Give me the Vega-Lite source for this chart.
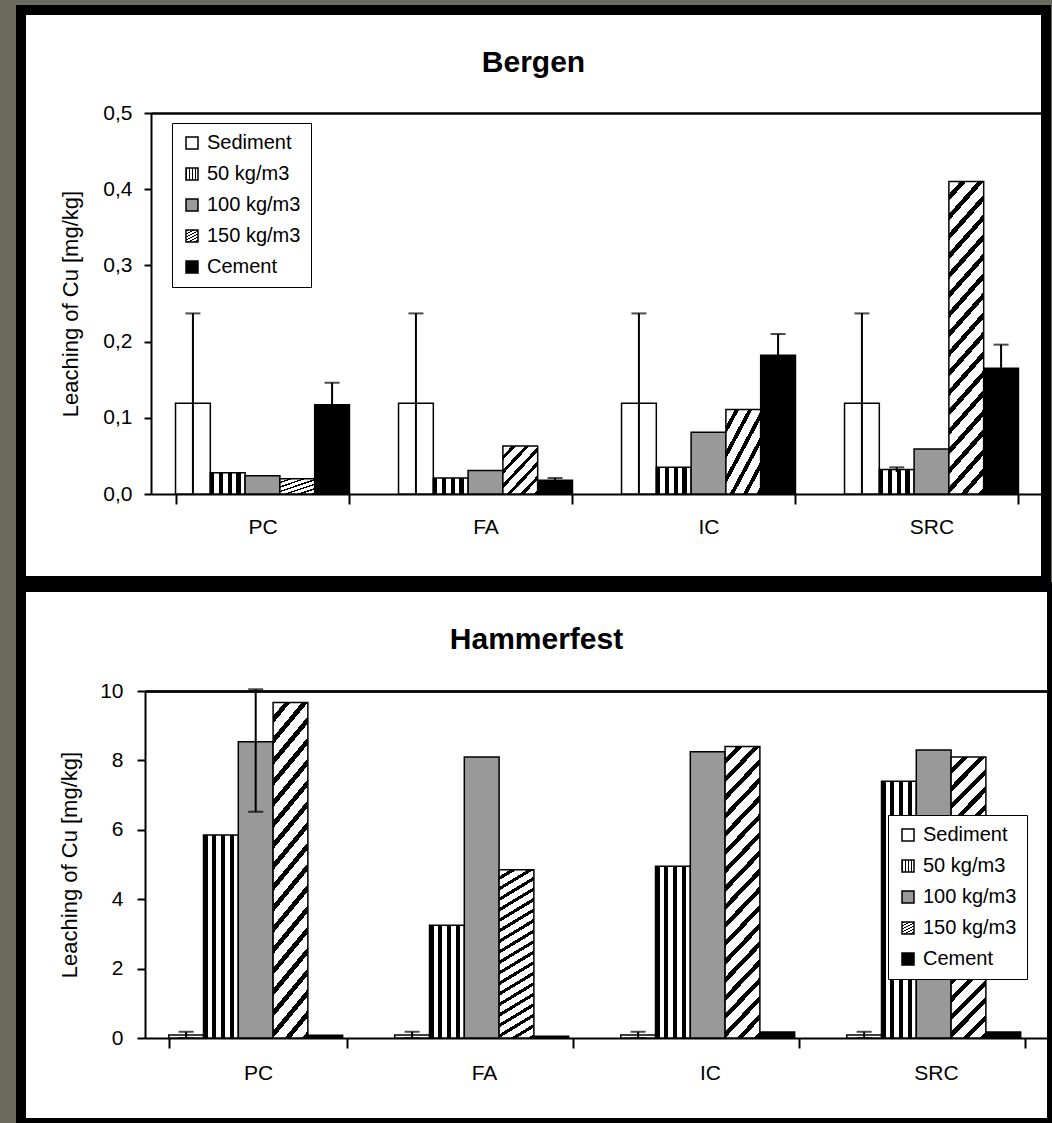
{
  "$schema": "https://vega.github.io/schema/vega-lite/v6.json",
  "background": "#6b6b5e",
  "padding": {"left": 16, "top": 5, "right": 0, "bottom": 0},
  "bounds": "flush",
  "spacing": 6,
  "datasets": {
    "bergen": [
      {"cat": "PC", "series": "Sediment", "value": 0.119},
      {"cat": "PC", "series": "50 kg/m3", "value": 0.028},
      {"cat": "PC", "series": "100 kg/m3", "value": 0.024},
      {"cat": "PC", "series": "150 kg/m3", "value": 0.020},
      {"cat": "PC", "series": "Cement", "value": 0.117},
      {"cat": "FA", "series": "Sediment", "value": 0.119},
      {"cat": "FA", "series": "50 kg/m3", "value": 0.021},
      {"cat": "FA", "series": "100 kg/m3", "value": 0.031},
      {"cat": "FA", "series": "150 kg/m3", "value": 0.063},
      {"cat": "FA", "series": "Cement", "value": 0.018},
      {"cat": "IC", "series": "Sediment", "value": 0.119},
      {"cat": "IC", "series": "50 kg/m3", "value": 0.035},
      {"cat": "IC", "series": "100 kg/m3", "value": 0.081},
      {"cat": "IC", "series": "150 kg/m3", "value": 0.111},
      {"cat": "IC", "series": "Cement", "value": 0.182},
      {"cat": "SRC", "series": "Sediment", "value": 0.119},
      {"cat": "SRC", "series": "50 kg/m3", "value": 0.032},
      {"cat": "SRC", "series": "100 kg/m3", "value": 0.059},
      {"cat": "SRC", "series": "150 kg/m3", "value": 0.410},
      {"cat": "SRC", "series": "Cement", "value": 0.165}
    ],
    "bergenErr": [
      {"cat": "PC", "series": "Sediment", "low": 0.001, "high": 0.237},
      {"cat": "FA", "series": "Sediment", "low": 0.001, "high": 0.237},
      {"cat": "IC", "series": "Sediment", "low": 0.001, "high": 0.237},
      {"cat": "SRC", "series": "Sediment", "low": 0.001, "high": 0.237},
      {"cat": "PC", "series": "Cement", "low": 0.088, "high": 0.146},
      {"cat": "FA", "series": "Cement", "low": 0.015, "high": 0.021},
      {"cat": "IC", "series": "Cement", "low": 0.154, "high": 0.210},
      {"cat": "SRC", "series": "50 kg/m3", "low": 0.029, "high": 0.035},
      {"cat": "SRC", "series": "Cement", "low": 0.134, "high": 0.196}
    ],
    "hammerfest": [
      {"cat": "PC", "series": "Sediment", "value": 0.09},
      {"cat": "PC", "series": "50 kg/m3", "value": 5.85},
      {"cat": "PC", "series": "100 kg/m3", "value": 8.54},
      {"cat": "PC", "series": "150 kg/m3", "value": 9.67},
      {"cat": "PC", "series": "Cement", "value": 0.08},
      {"cat": "FA", "series": "Sediment", "value": 0.09},
      {"cat": "FA", "series": "50 kg/m3", "value": 3.25},
      {"cat": "FA", "series": "100 kg/m3", "value": 8.1},
      {"cat": "FA", "series": "150 kg/m3", "value": 4.85},
      {"cat": "FA", "series": "Cement", "value": 0.05},
      {"cat": "IC", "series": "Sediment", "value": 0.09},
      {"cat": "IC", "series": "50 kg/m3", "value": 4.95},
      {"cat": "IC", "series": "100 kg/m3", "value": 8.25},
      {"cat": "IC", "series": "150 kg/m3", "value": 8.4},
      {"cat": "IC", "series": "Cement", "value": 0.17},
      {"cat": "SRC", "series": "Sediment", "value": 0.09},
      {"cat": "SRC", "series": "50 kg/m3", "value": 7.4},
      {"cat": "SRC", "series": "100 kg/m3", "value": 8.3},
      {"cat": "SRC", "series": "150 kg/m3", "value": 8.1},
      {"cat": "SRC", "series": "Cement", "value": 0.17}
    ],
    "hammerfestErr": [
      {"cat": "PC", "series": "100 kg/m3", "low": 6.52, "high": 10.05},
      {"cat": "PC", "series": "Sediment", "low": 0, "high": 0.18},
      {"cat": "FA", "series": "Sediment", "low": 0, "high": 0.18},
      {"cat": "IC", "series": "Sediment", "low": 0, "high": 0.18},
      {"cat": "SRC", "series": "Sediment", "low": 0, "high": 0.18}
    ]
  },
  "resolve": {"scale": {"fill": "independent"}, "legend": {"fill": "independent"}},
  "vconcat": [
    {
      "width": 1025,
      "height": 571,
      "title": {"text": "Bergen", "offset": -68},
      "layer": [
        {
          "data": {"name": "bergen"},
          "mark": {"type": "bar", "stroke": "black", "strokeWidth": 1.5},
          "encoding": {
            "x": {"field": "cat", "type": "nominal", "sort": ["PC", "FA", "IC", "SRC"],
                  "scale": {"range": [130, 1022], "paddingInner": 0.22, "paddingOuter": 0.11},
                  "axis": {"orient": "bottom", "offset": -87, "title": null, "tickBand": "extent", "labelAngle": 0, "tickSize": 10, "labelPadding": 12}},
            "xOffset": {"field": "series", "type": "nominal", "scale": {"domain": ["Sediment", "50 kg/m3", "100 kg/m3", "150 kg/m3", "Cement"], "paddingInner": 0, "paddingOuter": 0}},
            "y": {"field": "value", "type": "quantitative",
                  "scale": {"domain": [0, 0.5], "range": [484, 103], "nice": false},
                  "axis": {"orient": "left", "offset": -130, "values": [0, 0.1, 0.2, 0.3, 0.4, 0.5], "labelExpr": "replace(format(datum.value, '.1f'), '.', ',')", "title": "Leaching of Cu [mg/kg]", "tickSize": 7, "labelPadding": 12, "titlePadding": 20}},
            "fill": {"field": "series", "type": "nominal",
                     "condition": {"test": "datum.series === '150 kg/m3' && datum.value < 0.12",
                                   "value": {"expr": "{gradient:'linear',x1:0,y1:0,x2:0.855,y2:1.111,stops:[{offset:0,color:'white'},{offset:0.1117,color:'white'},{offset:0.1117,color:'black'},{offset:0.1667,color:'black'},{offset:0.1667,color:'white'},{offset:0.2783,color:'white'},{offset:0.2783,color:'black'},{offset:0.3333,color:'black'},{offset:0.3333,color:'white'},{offset:0.445,color:'white'},{offset:0.445,color:'black'},{offset:0.5,color:'black'},{offset:0.5,color:'white'},{offset:0.6117,color:'white'},{offset:0.6117,color:'black'},{offset:0.6667,color:'black'},{offset:0.6667,color:'white'},{offset:0.7783,color:'white'},{offset:0.7783,color:'black'},{offset:0.8333,color:'black'},{offset:0.8333,color:'white'},{offset:0.945,color:'white'},{offset:0.945,color:'black'},{offset:1,color:'black'}]}"}},
                     "scale": {"domain": ["Sediment", "50 kg/m3", "100 kg/m3", "150 kg/m3", "Cement"],
                               "range": [
                                 "white",
                                 {"expr": "{gradient:'linear',x1:0,y1:0,x2:1,y2:0,stops:[{offset:0,color:'black'},{offset:0.12,color:'black'},{offset:0.12,color:'white'},{offset:0.25,color:'white'},{offset:0.25,color:'black'},{offset:0.37,color:'black'},{offset:0.37,color:'white'},{offset:0.5,color:'white'},{offset:0.5,color:'black'},{offset:0.62,color:'black'},{offset:0.62,color:'white'},{offset:0.75,color:'white'},{offset:0.75,color:'black'},{offset:0.87,color:'black'},{offset:0.87,color:'white'},{offset:1,color:'white'}]}"},
                                 "#999999",
                                 {"expr": "{gradient:'linear',x1:0,y1:0,x2:0.1385,y2:1.108,stops:[{offset:0,color:'white'},{offset:0.0361,color:'white'},{offset:0.0361,color:'black'},{offset:0.0556,color:'black'},{offset:0.0556,color:'white'},{offset:0.0917,color:'white'},{offset:0.0917,color:'black'},{offset:0.1111,color:'black'},{offset:0.1111,color:'white'},{offset:0.1472,color:'white'},{offset:0.1472,color:'black'},{offset:0.1667,color:'black'},{offset:0.1667,color:'white'},{offset:0.2028,color:'white'},{offset:0.2028,color:'black'},{offset:0.2222,color:'black'},{offset:0.2222,color:'white'},{offset:0.2583,color:'white'},{offset:0.2583,color:'black'},{offset:0.2778,color:'black'},{offset:0.2778,color:'white'},{offset:0.3139,color:'white'},{offset:0.3139,color:'black'},{offset:0.3333,color:'black'},{offset:0.3333,color:'white'},{offset:0.3694,color:'white'},{offset:0.3694,color:'black'},{offset:0.3889,color:'black'},{offset:0.3889,color:'white'},{offset:0.425,color:'white'},{offset:0.425,color:'black'},{offset:0.4444,color:'black'},{offset:0.4444,color:'white'},{offset:0.4806,color:'white'},{offset:0.4806,color:'black'},{offset:0.5,color:'black'},{offset:0.5,color:'white'},{offset:0.5361,color:'white'},{offset:0.5361,color:'black'},{offset:0.5556,color:'black'},{offset:0.5556,color:'white'},{offset:0.5917,color:'white'},{offset:0.5917,color:'black'},{offset:0.6111,color:'black'},{offset:0.6111,color:'white'},{offset:0.6472,color:'white'},{offset:0.6472,color:'black'},{offset:0.6667,color:'black'},{offset:0.6667,color:'white'},{offset:0.7028,color:'white'},{offset:0.7028,color:'black'},{offset:0.7222,color:'black'},{offset:0.7222,color:'white'},{offset:0.7583,color:'white'},{offset:0.7583,color:'black'},{offset:0.7778,color:'black'},{offset:0.7778,color:'white'},{offset:0.8139,color:'white'},{offset:0.8139,color:'black'},{offset:0.8333,color:'black'},{offset:0.8333,color:'white'},{offset:0.8694,color:'white'},{offset:0.8694,color:'black'},{offset:0.8889,color:'black'},{offset:0.8889,color:'white'},{offset:0.925,color:'white'},{offset:0.925,color:'black'},{offset:0.9444,color:'black'},{offset:0.9444,color:'white'},{offset:0.9806,color:'white'},{offset:0.9806,color:'black'},{offset:1,color:'black'}]}"},
                                 "black"
                               ]},
                     "legend": {"orient": "none", "legendX": 151, "legendY": 113}}
          }
        },
        {
          "data": {"name": "bergenErr"},
          "mark": {"type": "rule", "strokeWidth": 2, "color": "black"},
          "encoding": {
            "x": {"field": "cat", "type": "nominal", "sort": ["PC", "FA", "IC", "SRC"],
                  "scale": {"range": [130, 1022], "paddingInner": 0.22, "paddingOuter": 0.11},
                  "axis": {"orient": "top", "offset": -103, "title": null, "labels": false, "ticks": false}},
            "xOffset": {"field": "series", "type": "nominal", "scale": {"domain": ["Sediment", "50 kg/m3", "100 kg/m3", "150 kg/m3", "Cement"], "paddingInner": 0, "paddingOuter": 0}},
            "y": {"field": "low", "type": "quantitative", "scale": {"domain": [0, 0.5], "range": [484, 103], "nice": false},
                  "axis": {"orient": "left", "offset": -130, "values": [0, 0.1, 0.2, 0.3, 0.4, 0.5], "labelExpr": "replace(format(datum.value, '.1f'), '.', ',')", "title": "Leaching of Cu [mg/kg]", "tickSize": 7, "labelPadding": 12, "titlePadding": 20}},
            "y2": {"field": "high"}
          }
        },
        {
          "data": {"name": "bergenErr"},
          "mark": {"type": "tick", "size": 15, "thickness": 2, "color": "black"},
          "encoding": {
            "x": {"field": "cat", "type": "nominal", "sort": ["PC", "FA", "IC", "SRC"],
                  "scale": {"range": [130, 1022], "paddingInner": 0.22, "paddingOuter": 0.11},
                  "axis": {"orient": "top", "offset": -103, "title": null, "labels": false, "ticks": false}},
            "xOffset": {"field": "series", "type": "nominal", "scale": {"domain": ["Sediment", "50 kg/m3", "100 kg/m3", "150 kg/m3", "Cement"], "paddingInner": 0, "paddingOuter": 0}},
            "y": {"field": "high", "type": "quantitative", "scale": {"domain": [0, 0.5], "range": [484, 103], "nice": false},
                  "axis": {"orient": "left", "offset": -130, "values": [0, 0.1, 0.2, 0.3, 0.4, 0.5], "labelExpr": "replace(format(datum.value, '.1f'), '.', ',')", "title": "Leaching of Cu [mg/kg]", "tickSize": 7, "labelPadding": 12, "titlePadding": 20}}
          }
        }
      ]
    },
    {
      "width": 1031,
      "height": 536,
      "title": {"text": "Hammerfest", "offset": -68},
      "layer": [
        {
          "data": {"name": "hammerfest"},
          "mark": {"type": "bar", "stroke": "black", "strokeWidth": 1.5},
          "encoding": {
            "x": {"field": "cat", "type": "nominal", "sort": ["PC", "FA", "IC", "SRC"],
                  "scale": {"range": [124, 1028], "paddingInner": 0.21, "paddingOuter": 0.105},
                  "axis": {"orient": "bottom", "offset": -85, "title": null, "tickBand": "extent", "labelAngle": 0, "tickSize": 10, "labelPadding": 14}},
            "xOffset": {"field": "series", "type": "nominal", "scale": {"domain": ["Sediment", "50 kg/m3", "100 kg/m3", "150 kg/m3", "Cement"], "paddingInner": 0, "paddingOuter": 0}},
            "y": {"field": "value", "type": "quantitative",
                  "scale": {"domain": [0, 10], "range": [451, 104], "nice": false},
                  "axis": {"orient": "left", "offset": -124, "values": [0, 2, 4, 6, 8, 10], "title": "Leaching of Cu [mg/kg]", "tickSize": 8, "labelPadding": 14, "titlePadding": 18}},
            "fill": {"field": "series", "type": "nominal",
                     "scale": {"domain": ["Sediment", "50 kg/m3", "100 kg/m3", "150 kg/m3", "Cement"],
                               "range": [
                                 "white",
                                 {"expr": "{gradient:'linear',x1:0,y1:0,x2:1,y2:0,stops:[{offset:0,color:'black'},{offset:0.12,color:'black'},{offset:0.12,color:'white'},{offset:0.25,color:'white'},{offset:0.25,color:'black'},{offset:0.37,color:'black'},{offset:0.37,color:'white'},{offset:0.5,color:'white'},{offset:0.5,color:'black'},{offset:0.62,color:'black'},{offset:0.62,color:'white'},{offset:0.75,color:'white'},{offset:0.75,color:'black'},{offset:0.87,color:'black'},{offset:0.87,color:'white'},{offset:1,color:'white'}]}"},
                                 "#999999",
                                 {"expr": "{gradient:'linear',x1:0,y1:0,x2:0.1385,y2:1.108,stops:[{offset:0,color:'white'},{offset:0.0361,color:'white'},{offset:0.0361,color:'black'},{offset:0.0556,color:'black'},{offset:0.0556,color:'white'},{offset:0.0917,color:'white'},{offset:0.0917,color:'black'},{offset:0.1111,color:'black'},{offset:0.1111,color:'white'},{offset:0.1472,color:'white'},{offset:0.1472,color:'black'},{offset:0.1667,color:'black'},{offset:0.1667,color:'white'},{offset:0.2028,color:'white'},{offset:0.2028,color:'black'},{offset:0.2222,color:'black'},{offset:0.2222,color:'white'},{offset:0.2583,color:'white'},{offset:0.2583,color:'black'},{offset:0.2778,color:'black'},{offset:0.2778,color:'white'},{offset:0.3139,color:'white'},{offset:0.3139,color:'black'},{offset:0.3333,color:'black'},{offset:0.3333,color:'white'},{offset:0.3694,color:'white'},{offset:0.3694,color:'black'},{offset:0.3889,color:'black'},{offset:0.3889,color:'white'},{offset:0.425,color:'white'},{offset:0.425,color:'black'},{offset:0.4444,color:'black'},{offset:0.4444,color:'white'},{offset:0.4806,color:'white'},{offset:0.4806,color:'black'},{offset:0.5,color:'black'},{offset:0.5,color:'white'},{offset:0.5361,color:'white'},{offset:0.5361,color:'black'},{offset:0.5556,color:'black'},{offset:0.5556,color:'white'},{offset:0.5917,color:'white'},{offset:0.5917,color:'black'},{offset:0.6111,color:'black'},{offset:0.6111,color:'white'},{offset:0.6472,color:'white'},{offset:0.6472,color:'black'},{offset:0.6667,color:'black'},{offset:0.6667,color:'white'},{offset:0.7028,color:'white'},{offset:0.7028,color:'black'},{offset:0.7222,color:'black'},{offset:0.7222,color:'white'},{offset:0.7583,color:'white'},{offset:0.7583,color:'black'},{offset:0.7778,color:'black'},{offset:0.7778,color:'white'},{offset:0.8139,color:'white'},{offset:0.8139,color:'black'},{offset:0.8333,color:'black'},{offset:0.8333,color:'white'},{offset:0.8694,color:'white'},{offset:0.8694,color:'black'},{offset:0.8889,color:'black'},{offset:0.8889,color:'white'},{offset:0.925,color:'white'},{offset:0.925,color:'black'},{offset:0.9444,color:'black'},{offset:0.9444,color:'white'},{offset:0.9806,color:'white'},{offset:0.9806,color:'black'},{offset:1,color:'black'}]}"},
                                 "black"
                               ]},
                     "legend": {"orient": "none", "legendX": 867, "legendY": 228}}
          }
        },
        {
          "data": {"name": "hammerfestErr"},
          "mark": {"type": "rule", "strokeWidth": 2, "color": "black"},
          "encoding": {
            "x": {"field": "cat", "type": "nominal", "sort": ["PC", "FA", "IC", "SRC"],
                  "scale": {"range": [124, 1028], "paddingInner": 0.21, "paddingOuter": 0.105},
                  "axis": {"orient": "top", "offset": -104, "title": null, "labels": false, "ticks": false}},
            "xOffset": {"field": "series", "type": "nominal", "scale": {"domain": ["Sediment", "50 kg/m3", "100 kg/m3", "150 kg/m3", "Cement"], "paddingInner": 0, "paddingOuter": 0}},
            "y": {"field": "low", "type": "quantitative", "scale": {"domain": [0, 10], "range": [451, 104], "nice": false},
                  "axis": {"orient": "left", "offset": -124, "values": [0, 2, 4, 6, 8, 10], "title": "Leaching of Cu [mg/kg]", "tickSize": 8, "labelPadding": 14, "titlePadding": 18}},
            "y2": {"field": "high"}
          }
        },
        {
          "data": {"name": "hammerfestErr"},
          "mark": {"type": "tick", "size": 15, "thickness": 2, "color": "black"},
          "encoding": {
            "x": {"field": "cat", "type": "nominal", "sort": ["PC", "FA", "IC", "SRC"],
                  "scale": {"range": [124, 1028], "paddingInner": 0.21, "paddingOuter": 0.105},
                  "axis": {"orient": "top", "offset": -104, "title": null, "labels": false, "ticks": false}},
            "xOffset": {"field": "series", "type": "nominal", "scale": {"domain": ["Sediment", "50 kg/m3", "100 kg/m3", "150 kg/m3", "Cement"], "paddingInner": 0, "paddingOuter": 0}},
            "y": {"field": "high", "type": "quantitative", "scale": {"domain": [0, 10], "range": [451, 104], "nice": false},
                  "axis": {"orient": "left", "offset": -124, "values": [0, 2, 4, 6, 8, 10], "title": "Leaching of Cu [mg/kg]", "tickSize": 8, "labelPadding": 14, "titlePadding": 18}}
          }
        },
        {
          "data": {"name": "hammerfestErr"},
          "mark": {"type": "tick", "size": 15, "thickness": 2, "color": "black"},
          "encoding": {
            "x": {"field": "cat", "type": "nominal", "sort": ["PC", "FA", "IC", "SRC"],
                  "scale": {"range": [124, 1028], "paddingInner": 0.21, "paddingOuter": 0.105},
                  "axis": {"orient": "top", "offset": -104, "title": null, "labels": false, "ticks": false}},
            "xOffset": {"field": "series", "type": "nominal", "scale": {"domain": ["Sediment", "50 kg/m3", "100 kg/m3", "150 kg/m3", "Cement"], "paddingInner": 0, "paddingOuter": 0}},
            "y": {"field": "low", "type": "quantitative", "scale": {"domain": [0, 10], "range": [451, 104], "nice": false},
                  "axis": {"orient": "left", "offset": -124, "values": [0, 2, 4, 6, 8, 10], "title": "Leaching of Cu [mg/kg]", "tickSize": 8, "labelPadding": 14, "titlePadding": 18}}
          }
        }
      ]
    }
  ],
  "config": {
    "font": "Liberation Sans",
    "view": {"stroke": "black", "strokeWidth": 10, "fill": "white"},
    "axis": {
      "labelFont": "Liberation Sans", "labelFontSize": 21, "labelColor": "black",
      "titleFont": "Liberation Sans", "titleFontSize": 22, "titleFontWeight": "normal", "titleColor": "black",
      "domainColor": "black", "domainWidth": 2, "tickColor": "black", "tickWidth": 2, "grid": false
    },
    "title": {"font": "Liberation Sans", "fontSize": 30, "fontWeight": "bold", "color": "black", "anchor": "middle", "frame": "group"},
    "legend": {
      "title": null, "strokeColor": "black", "fillColor": "white", "padding": 10,
      "symbolType": "square", "symbolSize": 144, "symbolStrokeColor": "black", "symbolStrokeWidth": 1.5,
      "labelFont": "Liberation Sans", "labelFontSize": 20, "labelColor": "black", "rowPadding": 11, "labelOffset": 5
    }
  }
}
